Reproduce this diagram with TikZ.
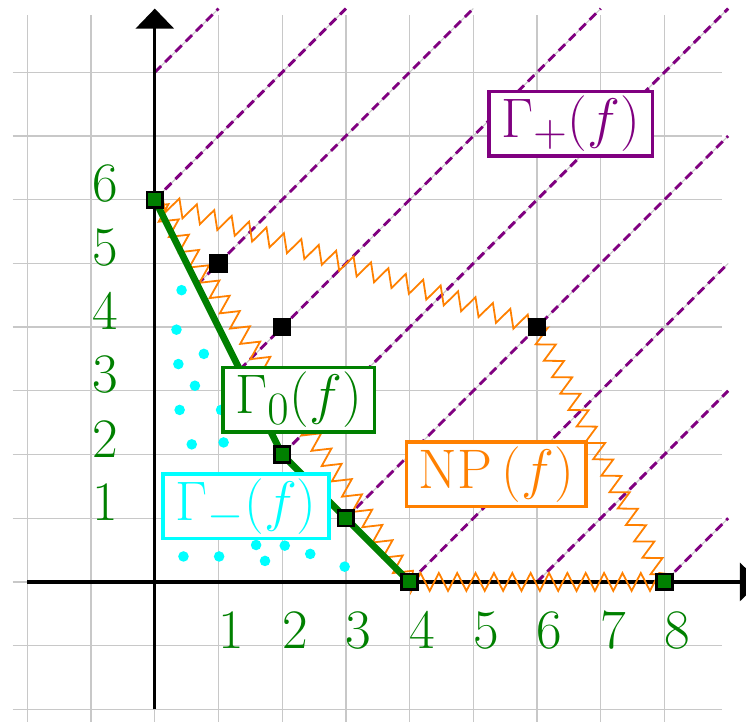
\documentclass[tikz,border=0pt]{standalone}
\usepackage{amsmath,amssymb,xcolor}
\definecolor{npgreen}{RGB}{0,128,0}
\definecolor{nppurple}{RGB}{128,0,128}
\definecolor{nporange}{RGB}{255,128,0}
\definecolor{npcyan}{RGB}{0,255,255}
\definecolor{npgrid}{RGB}{200,200,200}
\usepackage{tikz}
\usetikzlibrary{arrows.meta,positioning,calc,decorations.pathmorphing}
\tikzset{
  axis/.style={line width=1.5pt, -{Triangle[width=17pt,length=9pt]}},
  diag/.style={draw=nppurple, line width=1.3pt, dash pattern=on 4pt off 2.5pt,
               preaction={draw=npgrid, line width=0.5pt, solid}},
  vtx/.style={draw=black, line width=1.2pt, fill=#1, rectangle,
              minimum size=7pt, inner sep=0pt},
  lbl/.style={font=\Huge, text=npgreen, inner sep=0pt},
  gbox/.style={draw=#1, fill=white, text=#1, line width=1.6pt, font=\Huge,
               inner xsep=5.5pt, inner ysep=2pt},
}

\begin{document}
\begin{tikzpicture}
\useasboundingbox (-2.43,-2.19) rectangle (9.28,9.135);
% Grid
\draw[npgrid, line width=0.6pt] (-2.23,-2.3) grid (8.9,8.9);
% Newton polygon vertices and support points
\coordinate (p06) at (0,6);
\coordinate (p22) at (2,2);
\coordinate (p31) at (3,1);
\coordinate (p40) at (4,0);
\coordinate (p80) at (8,0);
\coordinate (p64) at (6,4);
% Diagonal rays of Gamma_+
\foreach \sx/\sy/\ex/\ey in {0/8/1/9, 0/6/3/9, 0.6667/4.6667/5/9, 1.3333/3.3333/7/9,
  2/2/9/9, 3/1/9/7, 4/0/9/5, 6/0/9/3, 8/0/9/1}{
  \draw[diag] (\sx,\sy) -- (\ex,\ey);
}
% Axes
\draw[axis] (-2,0) -- (9.5,0);
\draw[axis] (0,-2) -- (0,9);
% Axis labels
\foreach \k in {1,...,6}{
  \node[lbl] (ylab\k) at (-0.77,\k+0.25) {\k};
}
\foreach \k in {1,...,8}{
  \node[lbl] (xlab\k) at (\k+0.2,-0.76) {\k};
}
% Points below the boundary
\foreach \x/\y in {0.42/4.58, 0.34/3.96, 0.77/3.58, 0.37/3.42, 0.63/3.08, 0.39/2.7,
  1.04/2.7, 0.58/2.16, 1.08/2.19, 1.59/0.58, 2.04/0.57, 0.45/0.4, 1.01/0.4,
  1.73/0.33, 2.44/0.44, 2.98/0.24}{
  \fill[npcyan] (\x,\y) circle (0.083);
}
% Newton polygon
\draw[nporange, line width=0.8pt, decorate,
      decoration={zigzag, amplitude=4pt, segment length=8.2pt}]
  (p06) -- (p64) -- (p80) -- (p40) -- cycle;
% Newton boundary
\draw[npgreen, line width=3pt] (p06) -- (p22) -- (p31) -- (p40);
% Monomials
\node[vtx=black] (m15) at (1,5) {};
\node[vtx=black] (m24) at (2,4) {};
\node[vtx=black] (m64) at (p64) {};
\foreach \p in {p06,p22,p31,p40,p80}{
  \node[vtx=npgreen] (m\p) at (\p) {};
}
% Region labels
\node[gbox=nppurple] (gplus) at (6.53,7.19) {$\Gamma_+(f)$};
\node[gbox=npgreen] (gzero) at (2.26,2.86) {$\Gamma_0(f)$};
\node[gbox=npcyan] (gminus) at (1.43,1.19) {$\Gamma_-(f)$};
\node[gbox=nporange] (npf) at (5.36,1.69) {$\mathrm{NP}\left(f\right)$};
\end{tikzpicture}
\end{document}
